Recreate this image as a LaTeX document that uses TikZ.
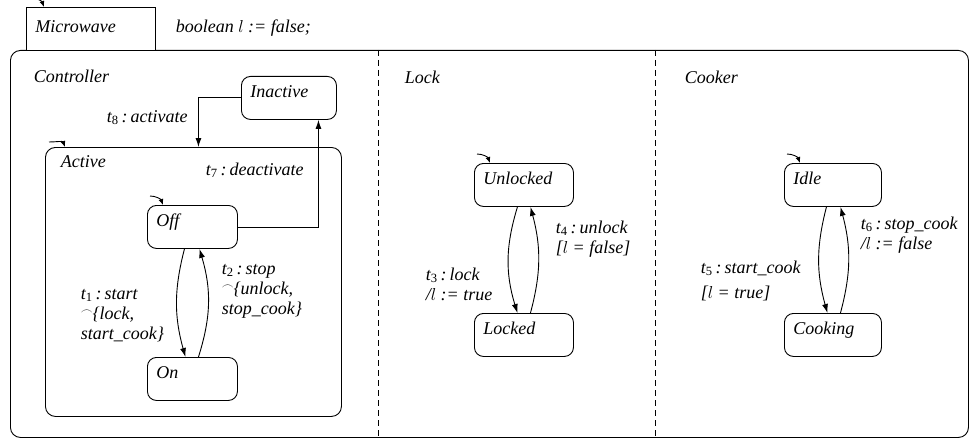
\documentclass[tikz,border=0pt]{standalone}
\usepackage{fontspec}
\setmainfont{Liberation Serif}
\usetikzlibrary{arrows.meta}
\tikzset{
  state/.style={draw,rectangle,rounded corners=9pt,anchor=north west,align=left,
    minimum height=43pt,inner xsep=9pt,inner ysep=0pt,text height=10pt,text depth=10pt},
  trans/.style={-{Latex[length=9pt,width=6pt]}},
  initmark/.style={-{Latex[length=6pt,width=5pt]}},
  lbl/.style={anchor=base west,align=left},
  region/.style={dash pattern=on 6pt off 4pt}
}
\newcommand{\trn}[1]{t\textsubscript{\upshape#1}\,:\,}
\newcommand{\seqarc}{\raisebox{0.5ex}{$\scriptstyle\frown$}}
\begin{document}
\begin{tikzpicture}[x=1pt,y=-1pt,line width=0.9pt,every node/.style={font=\fontsize{18}{20}\selectfont\itshape}]
\useasboundingbox (0,0) rectangle (975,444);
\node[draw,rectangle,rounded corners=10pt,anchor=north west,minimum width=958pt,minimum height=387pt] (sys)at(10,50){};
\node[draw,rectangle,fill=white,anchor=north west,align=left,minimum height=43pt,inner xsep=9pt,
  text width=111pt,text height=14pt,text depth=6pt] (mw)at(26,7){Microwave};
\node[lbl] (decl)at(172,33){boolean $l$ := false;};
\draw[region] (378,50) -- (378,437);
\draw[region] (655,50) -- (655,437);
\draw[initmark] ([xshift=5pt,yshift=9pt]mw.north west) to[out=0,in=110] ([xshift=18pt]mw.north west);

\node[lbl] (ctrl)at(30,82){Controller};
\node[state,text width=77pt] (inact)at(241,76){Inactive};
\node[draw,rectangle,rounded corners=10pt,anchor=north west,minimum width=296pt,minimum height=269pt] (act)at(45,147){};
\node[lbl] (actl)at(57,167){Active};
\node[state,text width=72pt] (off)at(147,205){Off};
\node[state,text width=72pt] (on)at(147,357){On};
\draw[initmark] ([xshift=4pt,yshift=5pt]act.north west) to[out=0,in=110] ([xshift=20pt]act.north west);
\draw[initmark] ([xshift=3pt,yshift=9pt]off.north west) to[out=0,in=110] ([xshift=16pt]off.north west);
\draw[trans] (inact.west) -| ([xshift=5pt]act.north);
\draw[trans] (off.east) -| ([xshift=29.5pt]inact.south);
\draw[trans] ([xshift=-8pt]off.south) to[bend right=15] ([xshift=-7pt]on.north);
\draw[trans] ([xshift=6pt]on.north) to[bend right=17] ([xshift=7pt]off.south);
\node[lbl] (lt8)at(103,122){\trn{8}activate};
\node[lbl] (lt7)at(202,175){\trn{7}deactivate};
\node[lbl] (lt1)at(77,339){\trn{1}start\\\seqarc\{lock,\\start\_cook\}};
\node[lbl] (lt2)at(218,314){\trn{2}stop\\\seqarc\{unlock,\\stop\_cook\}};

\node[lbl] (lock)at(401,84){Lock};
\node[state,text width=81pt] (unl)at(474,163){Unlocked};
\node[state,text width=81pt] (lkd)at(474,313){Locked};
\draw[initmark] ([xshift=3pt,yshift=9pt]unl.north west) to[out=0,in=110] ([xshift=16pt]unl.north west);
\draw[trans] ([xshift=-6.5pt]unl.south) to[bend right=17] ([xshift=-6.5pt]lkd.north);
\draw[trans] ([xshift=6.5pt]lkd.north) to[bend right=15] ([xshift=6.5pt]unl.south);
\node[lbl] (lt3)at(422,300){\trn{3}lock\\/$l$ := true};
\node[lbl] (lt4)at(552,253){\trn{4}unlock\\{}[$l$ = false]};

\node[lbl] (cooker)at(681,84){Cooker};
\node[state,text width=79pt] (idle)at(784,163){Idle};
\node[state,text width=79pt] (cook)at(784,313){Cooking};
\draw[initmark] ([xshift=3pt,yshift=9pt]idle.north west) to[out=0,in=110] ([xshift=16pt]idle.north west);
\draw[trans] ([xshift=-6.5pt]idle.south) to[bend right=15] ([xshift=-5.5pt]cook.north);
\draw[trans] ([xshift=7.5pt]cook.north) to[bend right=15] ([xshift=7.5pt]idle.south);
\node[lbl] (lt5)at(697,298){\trn{5}start\_cook\\[5pt][$l$ = true]};
\node[lbl] (lt6)at(857,249){\trn{6}stop\_cook\\/$l$ := false};
\end{tikzpicture}
\end{document}
